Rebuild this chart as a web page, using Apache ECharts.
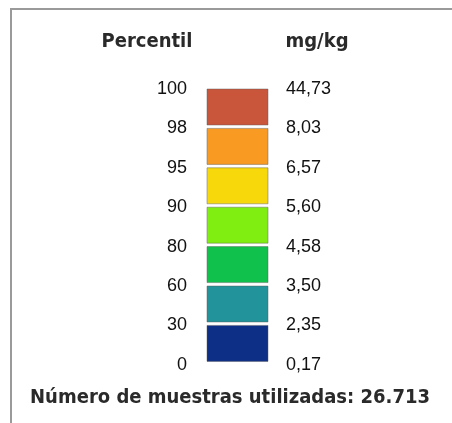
<!DOCTYPE html>
<html>
<head>
<meta charset="utf-8">
<script src="https://cdn.jsdelivr.net/npm/echarts@6/dist/echarts.min.js"></script>
<style>
html,body{margin:0;padding:0;background:#fff;}
#chart{width:452px;height:423px;}
</style>
</head>
<body>
<div id="chart"></div>
<script>
// Data
var percentiles = ['100', '98', '95', '90', '80', '60', '30', '0'];
var mgkg = ['44,73', '8,03', '6,57', '5,60', '4,58', '3,50', '2,35', '0,17'];
var classColors = ['#C9553A', '#F99A22', '#F7D80A', '#80EE10', '#10C24C', '#22939A', '#0E2F86'];
var headerLeft = 'Percentil';
var headerRight = 'mg/kg';
var footer = 'Número de muestras utilizadas: 26.713';

var classes = classColors.map(function (c, i) { return [i]; });

var boldFont = "'DejaVu Sans Condensed', 'Open Sans', sans-serif";
var numFont = "'Liberation Sans', Arial, sans-serif";
var boxFrac = 36 / 39.4;

var chart = echarts.init(document.getElementById('chart'), null, {renderer: 'canvas'});
chart.setOption({
  animation: false,
  backgroundColor: '#fff',
  grid: {left: 207, top: 89, width: 61, height: 7 * 39.4},
  xAxis: {type: 'value', min: 0, max: 1, show: false},
  yAxis: [
    {
      type: 'value', min: 0, max: 7, interval: 1, inverse: true, position: 'left',
      axisLine: {show: false}, axisTick: {show: false}, splitLine: {show: false},
      axisLabel: {
        margin: 20, color: '#111', fontFamily: numFont, fontSize: 18,
        showMinLabel: true, showMaxLabel: true,
        formatter: function (v) { return percentiles[v]; }
      }
    },
    {
      type: 'value', min: 0, max: 7, interval: 1, inverse: true, position: 'right',
      axisLine: {show: false}, axisTick: {show: false}, splitLine: {show: false},
      axisLabel: {
        margin: 18, color: '#111', fontFamily: numFont, fontSize: 18,
        showMinLabel: true, showMaxLabel: true,
        formatter: function (v) { return mgkg[v]; }
      }
    }
  ],
  series: [{
    type: 'custom',
    data: classes,
    encode: {y: 0},
    renderItem: function (params, api) {
      var i = api.value(0);
      var p0 = api.coord([0, i]);
      var p1 = api.coord([1, i + boxFrac]);
      return {
        type: 'rect',
        shape: {x: p0[0], y: p0[1], width: p1[0] - p0[0], height: p1[1] - p0[1]},
        style: {fill: classColors[i], stroke: 'rgba(90,90,90,0.45)', lineWidth: 1}
      };
    }
  }],
  graphic: [
    {type: 'rect', shape: {x: 11, y: 9, width: 460, height: 440},
      style: {fill: 'none', stroke: '#9a9a9a', lineWidth: 2}, silent: true},
    {type: 'text', x: 147, y: 42, style: {text: headerLeft, font: 'bold 20px ' + boldFont,
      fill: '#2a2a2a', textAlign: 'center', textVerticalAlign: 'middle'}},
    {type: 'text', x: 317, y: 42, style: {text: headerRight, font: 'bold 20px ' + boldFont,
      fill: '#2a2a2a', textAlign: 'center', textVerticalAlign: 'middle'}},
    {type: 'text', x: 230, y: 398, style: {text: footer, font: 'bold 20px ' + boldFont,
      fill: '#2a2a2a', textAlign: 'center', textVerticalAlign: 'middle'}}
  ]
});
</script>
</body>
</html>
